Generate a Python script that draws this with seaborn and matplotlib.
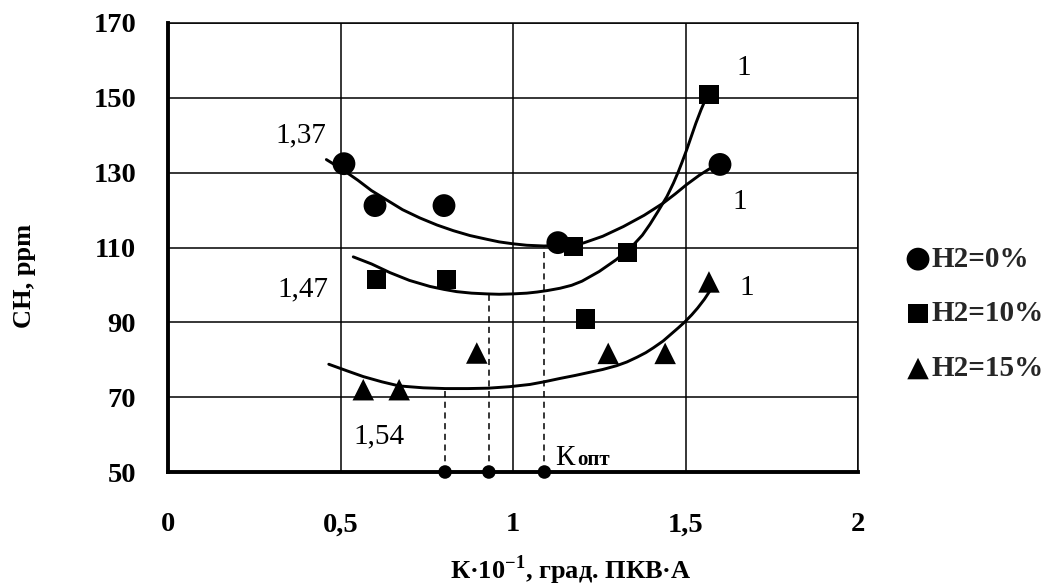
import numpy as np
import pandas as pd
import matplotlib
matplotlib.use("Agg")
import matplotlib.pyplot as plt
import seaborn as sns

x_h0 = [0.51, 0.60, 0.80, 1.13, 1.60]
y_h0 = [132.4, 121.2, 121.2, 111.3, 132.2]
x_h10 = [0.605, 0.808, 1.175, 1.209, 1.331, 1.568]
y_h10 = [101.4, 101.4, 110.2, 90.9, 108.7, 151.0]
x_h15 = [0.566, 0.670, 0.895, 1.276, 1.441, 1.568]
y_h15 = [72.0, 72.0, 81.8, 81.7, 81.7, 100.8]
labels = ["H2=0%", "H2=10%", "H2=15%"]

# trend curves
cx_h0 = [0.459, 0.503, 0.55, 0.59, 0.634, 0.68, 0.730, 0.78, 0.827, 0.875, 0.924, 0.96, 0.999, 1.04, 1.09,
         1.15, 1.204, 1.26, 1.32, 1.38, 1.436, 1.47, 1.503, 1.54, 1.581, 1.60]
cy_h0 = [133.5, 131.0, 128.0, 125.2, 122.7, 120.1, 117.9, 116.0, 114.5, 113.2, 112.2, 111.5, 111.0, 110.6, 110.4,
         110.6, 111.2, 113.0, 115.6, 118.6, 121.9, 124.3, 126.8, 129.3, 131.7, 132.4]
cx_h10 = [0.537, 0.59, 0.643, 0.70, 0.759, 0.80, 0.837, 0.88, 0.924, 0.96, 0.999, 1.04, 1.07, 1.10, 1.136, 1.17,
          1.20, 1.25, 1.30, 1.35, 1.375, 1.397, 1.42, 1.446, 1.465, 1.479, 1.49, 1.503, 1.515, 1.53, 1.545, 1.558, 1.568]
cy_h10 = [107.5, 105.6, 103.3, 101.2, 99.6, 98.8, 98.2, 97.8, 97.6, 97.5, 97.6, 97.8, 98.1, 98.5, 99.1, 99.9,
          101.0, 103.6, 106.8, 110.8, 113.3, 116.2, 119.6, 123.6, 127.2, 130.2, 132.8, 136.0, 139.2, 143.2, 146.8, 149.6, 151.4]
cx_h15 = [0.466, 0.52, 0.566, 0.62, 0.670, 0.74, 0.803, 0.87, 0.928, 0.99, 1.049, 1.09, 1.136, 1.18, 1.22, 1.26,
          1.30, 1.33, 1.36, 1.385, 1.407, 1.435, 1.46, 1.48, 1.499, 1.518, 1.535, 1.555, 1.575]
cy_h15 = [78.8, 77.0, 75.5, 74.1, 73.0, 72.5, 72.3, 72.3, 72.4, 72.8, 73.4, 74.1, 75.0, 75.8, 76.6, 77.4,
          78.4, 79.4, 80.7, 81.9, 83.2, 85.0, 87.0, 88.6, 90.2, 92.0, 93.8, 96.2, 99.0]

# optimum points (curve minima) dropped to the axis
k_opt_x = [0.803, 0.930, 1.091]
k_opt_y = [72.3, 97.6, 110.4]

xticks = [0, 0.5, 1, 1.5, 2]
xtick_labels = ["0", "0,5", "1", "1,5", "2"]
yticks = [50, 70, 90, 110, 130, 150, 170]

sns.set_theme(style="white")
plt.rcParams["font.family"] = ["Liberation Serif", "DejaVu Serif"]
plt.rcParams["mathtext.fontset"] = "custom"
plt.rcParams["mathtext.rm"] = "Liberation Serif"
plt.rcParams["mathtext.bf"] = "Liberation Serif:bold"

fig = plt.figure(figsize=(10.58, 5.85), dpi=100)
ax = fig.add_axes([168 / 1058, 1 - 472 / 585, (858 - 168) / 1058, (472 - 23) / 585])

ax.set_xlim(0, 2)
ax.set_ylim(50, 170)
ax.set_xticks(xticks)
ax.set_xticklabels(xtick_labels)
ax.set_yticks(yticks)
ax.grid(True, color="black", linewidth=1.1)
ax.set_axisbelow(True)

for sp in ["top", "right"]:
    ax.spines[sp].set_linewidth(1.1)
    ax.spines[sp].set_color("black")
for sp in ["left", "bottom"]:
    ax.spines[sp].set_linewidth(2.8)
    ax.spines[sp].set_color("black")

ax.tick_params(axis="both", direction="out", length=5, width=2, color="black",
               labelsize=20.5, labelcolor="black")
ax.tick_params(axis="x", pad=24)
ax.tick_params(axis="y", pad=18)
for t in ax.get_xticklabels() + ax.get_yticklabels():
    t.set_fontweight("bold")

curves = [(cx_h0, cy_h0), (cx_h10, cy_h10), (cx_h15, cy_h15)]
for cx, cy in curves:
    sns.lineplot(x=cx, y=cy, sort=False, estimator=None, color="black",
                 linewidth=2.1, ax=ax, zorder=3)

series = [(x_h0, y_h0, "o", 270), (x_h10, y_h10, "s", 190), (x_h15, y_h15, "^", 240)]
for (xs, ys, mk, s), lab in zip(series, labels):
    df = pd.DataFrame({"x": xs, "y": ys})
    sns.scatterplot(data=df, x="x", y="y", marker=mk, s=s, color="black",
                    edgecolor="none", ax=ax, label=lab, zorder=4)

# dashed drops to optimum
for kx, ky in zip(k_opt_x, k_opt_y):
    ax.plot([kx, kx], [50, ky], color="black", linewidth=1.1,
            linestyle=(0, (4, 3)), zorder=3)
sns.scatterplot(x=k_opt_x, y=[50] * len(k_opt_x), s=95, color="black",
                edgecolor="none", ax=ax, zorder=5, clip_on=False)

ax.set_xlabel("")
ax.set_ylabel("")

txt = dict(fontsize=21, color="black", ha="center", va="center")
ax.text(0.386, 140.1, "1,37", **txt)
ax.text(0.390, 98.9, "1,47", **txt)
ax.text(0.613, 59.4, "1,54", **txt)
ax.text(1.670, 158.0, "1", **txt)
ax.text(1.658, 122.2, "1", **txt)
ax.text(1.678, 99.2, "1", **txt)
ax.text(1.122, 51.9, "К", fontsize=21, color="black", ha="left", va="baseline")
ax.text(1.186, 51.9, "опт", fontsize=15, fontweight="bold", color="black",
        ha="left", va="baseline")

handles, labs = ax.get_legend_handles_labels()
ax.legend(handles, labs, loc="center left", bbox_to_anchor=(910 / 1058, 1 - 314 / 585),
          bbox_transform=fig.transFigure, frameon=False, handlelength=0.55,
          handletextpad=0.2, labelspacing=0.95, borderpad=0, borderaxespad=0,
          prop={"family": "Liberation Serif", "weight": "bold", "size": 21})

fig.text(24 / 1058, 1 - 276 / 585, "CH, ppm", rotation=90, ha="center", va="center",
         fontsize=19, fontweight="bold", color="black")
fig.text(571 / 1058, 1 - 570 / 585, "К·10$^{\\mathbf{-1}}$, град. ПКВ·А", ha="center",
         va="center", fontsize=19, fontweight="bold", color="black")

fig.savefig("out.png", dpi=100, facecolor="white")
